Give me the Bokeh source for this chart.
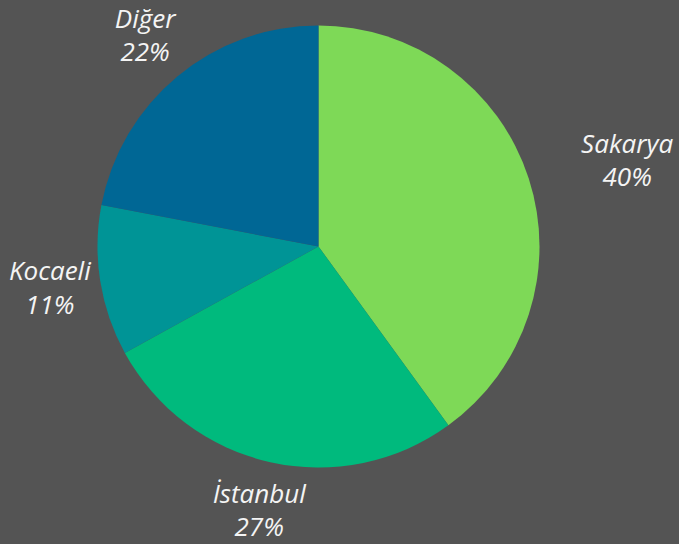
import numpy as np
from bokeh.plotting import figure
from bokeh.models import ColumnDataSource, Range1d
from bokeh.core.properties import value
from bokeh.embed import file_html
from bokeh.resources import INLINE

categories = ["Sakarya", "İstanbul", "Kocaeli", "Diğer"]
shares = [40, 27, 11, 22]
colors = ["#7ED957", "#00BA7D", "#009496", "#006795"]

W, H = 679, 544
BG = "#545454"
cx, cy = 318, H - 246
R = 221
R_label = 272

vals = np.array(shares, dtype=float)
frac = vals / vals.sum()
cum_end = np.cumsum(frac)
cum_start = cum_end - frac
start_angle = np.pi / 2 - 2 * np.pi * cum_end
end_angle = np.pi / 2 - 2 * np.pi * cum_start
mid = np.pi / 2 - 2 * np.pi * (cum_start + frac / 2)

labels = [f"{c}\n{s}%" for c, s in zip(categories, shares)]
lx = cx + R_label * np.cos(mid)
ly = cy + R_label * np.sin(mid)
x_off = [50, 0, 0, 0]
y_off = [-3, -2, -2, -2]

src = ColumnDataSource(dict(start=start_angle, end=end_angle, color=colors,
                            lx=lx, ly=ly, label=labels, xo=x_off, yo=y_off))

p = figure(width=W, height=H, output_backend="svg", toolbar_location=None,
           x_range=Range1d(0, W), y_range=Range1d(0, H), min_border=0)
p.axis.visible = False
p.grid.visible = False
p.outline_line_color = None
p.background_fill_color = BG
p.border_fill_color = BG

p.wedge(x=cx, y=cy, radius=R, start_angle="start", end_angle="end",
        fill_color="color", line_color=None, source=src)

p.text(x="lx", y="ly", text="label", source=src, text_align="center",
       x_offset="xo", y_offset="yo",
       text_baseline="middle", text_color="#f4f4f4",
       text_font=value("Open Sans"), text_font_style="italic",
       text_font_size="26px", text_line_height=0.92)

html = file_html(p, INLINE)
html = html.replace("<head>", "<head><style>html,body{background:%s;}</style>" % BG, 1)
open("out.html", "w").write(html)
